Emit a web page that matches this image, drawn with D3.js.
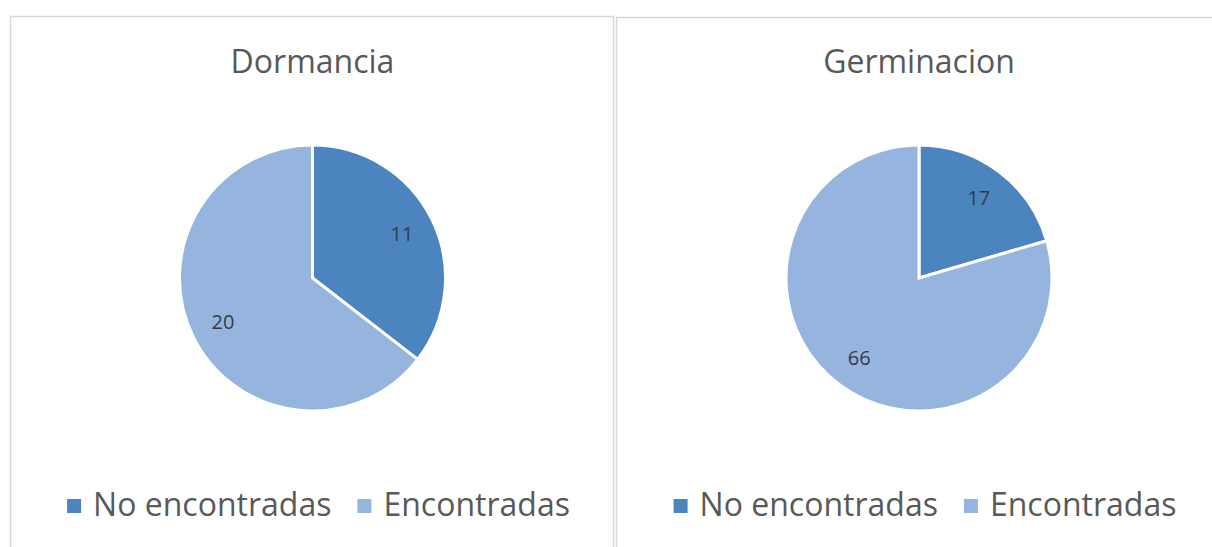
<!DOCTYPE html>
<html>
<head>
<meta charset="utf-8">
<script src="https://cdn.jsdelivr.net/npm/d3@7"></script>
<style>
  html, body { margin: 0; padding: 0; background: #ffffff; }
  svg { display: block; }
</style>
</head>
<body>
<svg id="chart" width="1212" height="547"></svg>
<script>
// Two pie charts: counts of found / not found per study topic
const chartTitles = ["Dormancia", "Germinacion"];
const categories = ["No encontradas", "Encontradas"];
const dormanciaValues = [11, 20];
const germinacionValues = [17, 66];
const seriesValues = [dormanciaValues, germinacionValues];
const sliceColors = ["#4b84bf", "#95b5df"];

const svg = d3.select("#chart");
const font = "'Open Sans', 'Noto Sans', sans-serif";
const textColor = "#595959";

// panel frames
const panels = [
  { x: 10, y: 16, w: 603 },
  { x: 616, y: 17, w: 604 }
];

const color = d3.scaleOrdinal().domain(categories).range(sliceColors);
const pie = d3.pie().sort(null).value(d => d.value);
const radius = 133;
const arc = d3.arc().innerRadius(0).outerRadius(radius);
const labelArc = d3.arc().innerRadius(radius * 0.75).outerRadius(radius * 0.75);

panels.forEach((p, i) => {
  const g = svg.append("g");
  const cx = p.x + p.w / 2 + 1;

  g.append("rect")
    .attr("x", p.x + 0.5).attr("y", p.y + 0.5)
    .attr("width", p.w).attr("height", 600)
    .attr("fill", "#ffffff")
    .attr("stroke", "#d9d9d9").attr("stroke-width", 1.5);

  g.append("text")
    .attr("x", cx).attr("y", 73)
    .attr("text-anchor", "middle")
    .attr("font-family", font).attr("font-size", 32)
    .attr("fill", textColor)
    .text(chartTitles[i]);

  const data = categories.map((c, k) => ({ key: c, value: seriesValues[i][k] }));
  const arcs = pie(data);
  const pg = g.append("g").attr("transform", `translate(${cx},278)`);

  pg.selectAll("path").data(arcs).join("path")
    .attr("d", arc)
    .attr("fill", d => color(d.data.key))
    .attr("stroke", "#ffffff").attr("stroke-width", 3)
    .attr("stroke-linejoin", "miter");

  pg.selectAll("text").data(arcs).join("text")
    .attr("transform", d => `translate(${labelArc.centroid(d)})`)
    .attr("text-anchor", "middle").attr("dy", "0.35em")
    .attr("font-family", font).attr("font-size", 20)
    .attr("fill", "#353c48")
    .text(d => d.data.value);

  // legend
  const lg = g.append("g");
  const items = lg.selectAll("g").data(categories).join("g");
  items.append("rect")
    .attr("width", 14).attr("height", 14)
    .attr("y", -17)
    .attr("fill", d => color(d));
  items.append("text")
    .attr("x", 26).attr("y", 0)
    .attr("font-family", font).attr("font-size", 32)
    .attr("fill", textColor)
    .text(d => d);
  let offset = 0;
  items.each(function () {
    const it = d3.select(this);
    it.attr("transform", `translate(${offset},0)`);
    offset += this.getBBox().width + 26;
  });
  const total = offset - 26;
  lg.attr("transform", `translate(${cx + 6 - total / 2},516)`);
});
</script>
</body>
</html>
